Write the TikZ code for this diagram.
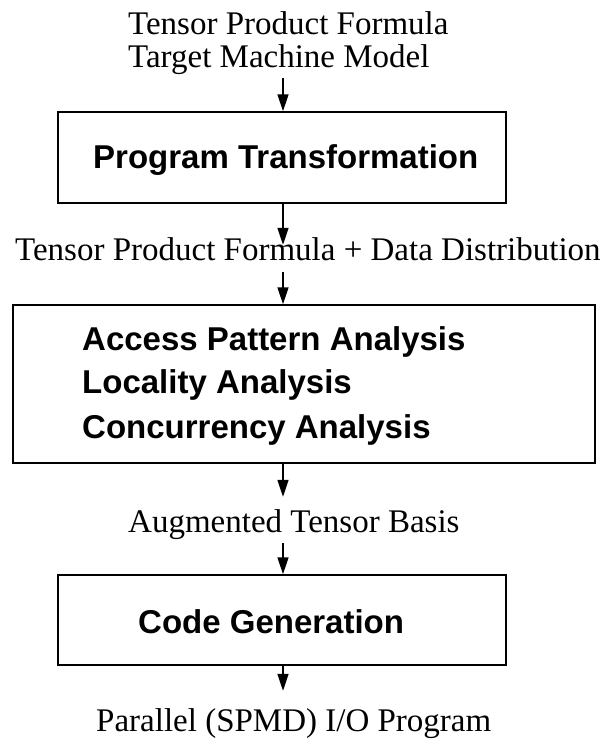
\documentclass[tikz,border=0pt]{standalone}
\usepackage{fontspec}
\setmainfont{Liberation Serif}
\newfontfamily\headfont{Liberation Sans}
\usetikzlibrary{arrows.meta}
\begin{document}
\begin{tikzpicture}[x=1pt,y=-1pt,
  flowbox/.style={draw, line width=1.5pt, rectangle, inner sep=0pt},
  plain/.style={font=\fontsize{33}{40}\selectfont, inner sep=0pt,
    text height=23pt, text depth=7pt, anchor=base west},
  stage/.style={font=\headfont\bfseries\fontsize{33}{40}\selectfont,
    inner sep=0pt, anchor=base west},
  flow/.style={line width=1.5pt, -{Triangle[length=17pt,width=11pt]}}]
\useasboundingbox (0,0) rectangle (613,739);
\coordinate (axis) at (283,0);

% inputs
\node[plain] (in1) at (128,34) {Tensor Product Formula};
\node[plain] (in2) at (128,67) {Target Machine Model};

% stage 1
\node[flowbox, minimum width=448pt, minimum height=91pt] (b1) at (282,157.5) {};
\node[stage] (s1) at (93,168) {Program Transformation};

\node[plain] (mid1) at (15,260) {Tensor Product Formula + Data Distribution};

% stage 2
\node[flowbox, minimum width=582pt, minimum height=158pt] (b2) at (304,384) {};
\node[stage] (s2a) at (82,350) {Access Pattern Analysis};
\node[stage] (s2b) at (82,393) {Locality Analysis};
\node[stage] (s2c) at (82,438) {Concurrency Analysis};

\node[plain] (mid2) at (128,532) {Augmented Tensor Basis};

% stage 3
\node[flowbox, minimum width=448pt, minimum height=90pt] (b3) at (282,620) {};
\node[stage] (s3) at (138,633) {Code Generation};

\node[plain] (out) at (96,731) {Parallel (SPMD) I/O Program};

% connectors
\draw[flow, shorten <=4pt] (in2.south -| axis) -- (b1.north -| axis);
\draw[flow, shorten >=-8pt] (b1.south -| axis) -- (mid1.north -| axis);
\draw[flow, shorten <=5pt] (mid1.south -| axis) -- (b2.north -| axis);
\draw[flow, shorten >=12pt] (b2.south -| axis) -- (mid2.north -| axis);
\draw[flow, shorten <=4pt] (mid2.south -| axis) -- (b3.north -| axis);
\draw[flow, shorten >=17pt] (b3.south -| axis) -- (out.north -| axis);
\end{tikzpicture}
\end{document}
